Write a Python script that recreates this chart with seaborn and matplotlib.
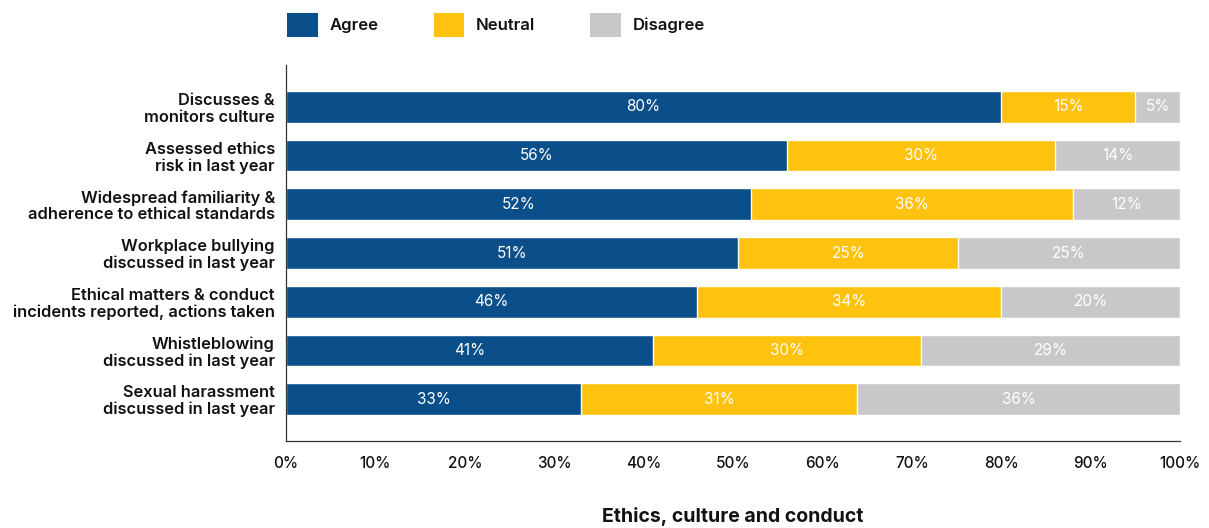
import matplotlib
matplotlib.use("Agg")
import matplotlib.pyplot as plt
from matplotlib.patches import Patch
import seaborn as sns
import numpy as np
import pandas as pd

categories = [
    "Discusses &\nmonitors culture",
    "Assessed ethics\nrisk in last year",
    "Widespread familiarity &\nadherence to ethical standards",
    "Workplace bullying\ndiscussed in last year",
    "Ethical matters & conduct\nincidents reported, actions taken",
    "Whistleblowing\ndiscussed in last year",
    "Sexual harassment\ndiscussed in last year",
]
agree = [80, 56, 52, 50.6, 46, 41, 33]
neutral = [15, 30, 36, 24.6, 34, 30, 30.9]
disagree = [5, 14, 12, 24.8, 20, 29, 36.1]
series_names = ["Agree", "Neutral", "Disagree"]
colors = ["#0B4F8A", "#FFC20E", "#C8C8C8"]
xticks = [0, 10, 20, 30, 40, 50, 60, 70, 80, 90, 100]
xlabel = "Ethics, culture and conduct"

sns.set_theme(style="white")
plt.rcParams['font.family'] = ['Inter', 'DejaVu Sans']

fig = plt.figure(figsize=(12.09, 5.28), dpi=100)
ax = fig.add_axes([286/1209, 1-441/528, (1180-286)/1209, (441-65)/528])

a = np.array(agree); n = np.array(neutral); d = np.array(disagree)
cum3 = a + n + d
cum2 = a + n
df = pd.DataFrame({"cat": categories, "c3": cum3, "c2": cum2, "c1": a})
for col, c in zip(["c3", "c2", "c1"], colors[::-1]):
    sns.barplot(data=df, x=col, y="cat", orient="h", color=c, width=0.65,
                saturation=1, ax=ax)

for i in range(len(categories)):
    starts = [0, a[i], a[i] + n[i]]
    vals = [a[i], n[i], d[i]]
    for s, v in zip(starts, vals):
        ax.text(s + v/2, i, f"{int(round(v + 1e-9))}%", ha="center", va="center",
                color="white", fontsize=11)

ax.set_xlim(0, 100)
ax.set_ylim(6.86, -0.86)
ax.set_xticks(xticks)
ax.set_xticklabels([f"{t}%" for t in xticks], fontsize=11, fontweight="medium",
                   color="#111111")
ax.tick_params(axis="x", direction="in", length=6, width=0.8, color="#333333", pad=11)
ax.tick_params(axis="y", length=0, pad=8)
for lbl in ax.get_yticklabels():
    lbl.set_fontsize(11.8)
    lbl.set_fontweight("semibold")
    lbl.set_color("#111111")
    lbl.set_multialignment("right")
    lbl.set_linespacing(1.1)
ax.set_ylabel("")
ax.set_xlabel("")
for sp in ["top", "right"]:
    ax.spines[sp].set_visible(False)
for sp in ["left", "bottom"]:
    ax.spines[sp].set_color("#333333")
    ax.spines[sp].set_linewidth(0.9)

fig.text((286+1180)/2/1209, 1-516/528, xlabel, ha="center", va="center",
         fontsize=14, fontweight="bold", color="#111111")

handles = [Patch(facecolor=c, edgecolor="none", label=s) for s, c in zip(series_names, colors)]
leg = fig.legend(handles=handles, loc="center left", bbox_to_anchor=(272/1209, 1-25/528),
           ncol=3, frameon=False, handlelength=1.85, handleheight=1.85,
           handletextpad=0.7, columnspacing=3.3, prop={"size": 12, "weight": "semibold"})
for t in leg.get_texts():
    t.set_color("#111111")

fig.savefig("out.png", dpi=100)
